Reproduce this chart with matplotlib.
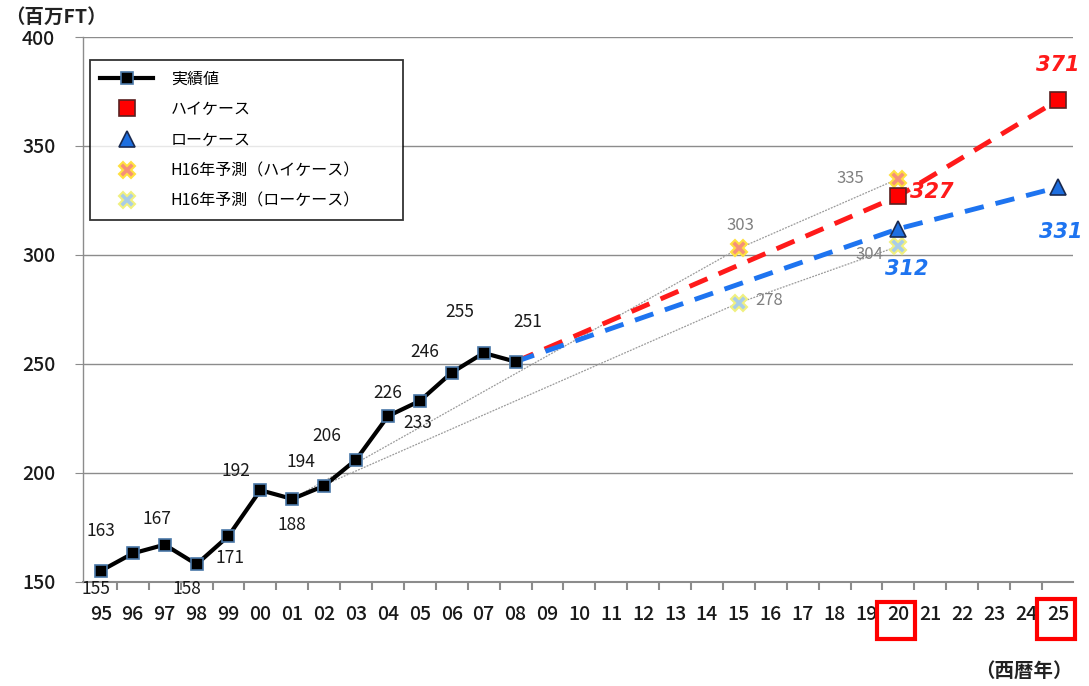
import matplotlib
matplotlib.use('Agg')
import matplotlib.pyplot as plt
from matplotlib.patches import Rectangle

plt.rcParams['font.family'] = ['Noto Sans CJK JP', 'DejaVu Sans']

# categories on the x axis (西暦年, 2 digits)
years = ['95', '96', '97', '98', '99', '00', '01', '02', '03', '04', '05', '06',
         '07', '08', '09', '10', '11', '12', '13', '14', '15', '16', '17', '18',
         '19', '20', '21', '22', '23', '24', '25']

# actual values
act_years = ['95', '96', '97', '98', '99', '00', '01', '02', '03', '04', '05',
             '06', '07', '08']
act_vals = [155, 163, 167, 158, 171, 192, 188, 194, 206, 226, 233, 246, 255, 251]

# forecasts
fc_years = ['08', '20', '25']
high_vals = [251, 327, 371]
low_vals = [251, 312, 331]

# H16 forecasts
h16_years = ['01', '15', '20']
h16_high = [188, 303, 335]
h16_low = [188, 278, 304]

idx = {y: i for i, y in enumerate(years)}
ax_x = [idx[y] for y in act_years]
fx = [idx[y] for y in fc_years]
hx = [idx[y] for y in h16_years]

fig = plt.figure(figsize=(10.89, 6.86), dpi=100)
ax = fig.add_axes([0.0762, 0.152, 0.909, 0.794])

ax.set_xlim(-0.56, 30.47)
ax.set_ylim(150, 400)
ax.set_yticks([150, 200, 250, 300, 350, 400])
ax.yaxis.grid(True, color='#8c8c8c', linewidth=1.0)
ax.set_axisbelow(True)
for s in ['top', 'right']:
    ax.spines[s].set_visible(False)
ax.spines['left'].set_color('#8c8c8c')
ax.spines['bottom'].set_color('#8c8c8c')
ax.spines['left'].set_linewidth(1.0)
ax.spines['bottom'].set_linewidth(1.5)

ax.set_xticks(range(len(years)))
ax.set_xticklabels(years)
ax.set_xticks([i + 0.5 for i in range(len(years) - 1)], minor=True)
ax.tick_params(axis='x', which='major', length=0, pad=17, labelsize=14)
ax.tick_params(axis='x', which='minor', length=6, width=1.5, color='#8c8c8c')
ax.tick_params(axis='y', length=6, color='#8c8c8c', pad=14, labelsize=14)
for t in ax.get_xticklabels() + ax.get_yticklabels():
    t.set_fontweight('medium')
    t.set_color('#1a1a1a')

# H16 thin lines
ax.plot(hx, h16_high, color='#9a9a9a', linewidth=0.9, linestyle=(0, (1.5, 1)), zorder=2)
ax.plot(hx, h16_low, color='#9a9a9a', linewidth=0.9, linestyle=(0, (1.5, 1)), zorder=2)

# forecast dashed lines
ax.plot(fx, high_vals, color='#ff1a1a', linewidth=3.5, dashes=(4, 2.5), zorder=3)
ax.plot(fx, low_vals, color='#1e74f0', linewidth=3.5, dashes=(4, 2.5), zorder=3)

# actual
ax.plot(ax_x, act_vals, color='black', linewidth=3, marker='s', markersize=8.5,
        markerfacecolor='black', markeredgecolor='#4a78a8', markeredgewidth=1.2,
        zorder=5, label='実績値')

ax.plot(fx[1:], high_vals[1:], linestyle='none', marker='s', markersize=11,
        markerfacecolor='#ff0000', markeredgecolor='#5a2020', markeredgewidth=1.2,
        zorder=6, label='ハイケース')
ax.plot(fx[1:], low_vals[1:], linestyle='none', marker='^', markersize=11,
        markerfacecolor='#1e6fe0', markeredgecolor='#1a2a50', markeredgewidth=1.2,
        zorder=6, label='ローケース')
ax.plot(hx[1:], h16_high[1:], linestyle='none', marker='X', markersize=12,
        markerfacecolor='#f4907a', markeredgecolor='#ffe040', markeredgewidth=1.5,
        zorder=4, label='H16年予測（ハイケース）')
ax.plot(hx[1:], h16_low[1:], linestyle='none', marker='X', markersize=12,
        markerfacecolor='#a8cce8', markeredgecolor='#f0f080', markeredgewidth=1.5,
        zorder=4, label='H16年予測（ローケース）')

# data labels (offset in pixels)
act_off = [(-5, -18), (-32, 22), (-8, 26), (-10, -25), (2, -22), (-24, 19),
           (0, -26), (-23, 24), (-29, 24), (0, 23), (-2, -22), (-27, 21),
           (-24, 41), (12, 40)]
for x, v, off in zip(ax_x, act_vals, act_off):
    ax.annotate(str(v), (x, v), xytext=off, textcoords='offset pixels',
                ha='center', va='center', fontsize=12.5, color='#1a1a1a', zorder=7)

h16_off_high = [(2, 23), (-48, 0)]
h16_off_low = [(30, 2), (-29, -8)]
for x, v, off in zip(hx[1:], h16_high[1:], h16_off_high):
    ax.annotate(str(v), (x, v), xytext=off, textcoords='offset pixels',
                ha='center', va='center', fontsize=12, color='#808080')
for x, v, off in zip(hx[1:], h16_low[1:], h16_off_low):
    ax.annotate(str(v), (x, v), xytext=off, textcoords='offset pixels',
                ha='center', va='center', fontsize=12, color='#808080')

high_off = [(33, 4), (0, 35)]
low_off = [(8, -40), (3, -45)]
for x, v, off in zip(fx[1:], high_vals[1:], high_off):
    ax.annotate(str(v), (x, v), xytext=off, textcoords='offset pixels',
                ha='center', va='center', fontsize=15, color='#ff1a1a',
                fontweight='bold', style='italic', family=['DejaVu Sans'])
for x, v, off in zip(fx[1:], low_vals[1:], low_off):
    ax.annotate(str(v), (x, v), xytext=off, textcoords='offset pixels',
                ha='center', va='center', fontsize=15, color='#1e74f0',
                fontweight='bold', style='italic', family=['DejaVu Sans'])

# legend box: x 90..403, y 60..220 px
lx0, lx1 = 90 / 1089, 403 / 1089
ly1 = 1 - 60 / 686
leg = fig.legend(loc='upper left', bbox_to_anchor=(lx0, ly1 - 0.3, lx1 - lx0, 0.3),
                 mode='expand', fontsize=11.5,
                 frameon=True, fancybox=False, edgecolor='black', borderpad=0.65,
                 labelspacing=0.85, handlelength=3.3, handletextpad=1.1,
                 borderaxespad=0)
leg.get_frame().set_linewidth(1.3)

# red boxes around 20 and 25 tick labels (figure pixels)
for x0, x1, y0, y1 in [(877, 915, 602, 639), (1037, 1075, 599, 639)]:
    fig.add_artist(Rectangle((x0 / 1089, 1 - y1 / 686), (x1 - x0) / 1089,
                             (y1 - y0) / 686, transform=fig.transFigure,
                             fill=False, edgecolor='#ff0000', linewidth=3,
                             zorder=10))

fig.text(0.005, 0.975, '（百万FT）', fontsize=14, ha='left', va='center',
         fontweight='bold', color='#222222')
fig.text(0.985, 0.021, '（西暦年）', fontsize=14, ha='right', va='center',
         fontweight='bold', color='#222222')

fig.savefig('out.png', dpi=100)
